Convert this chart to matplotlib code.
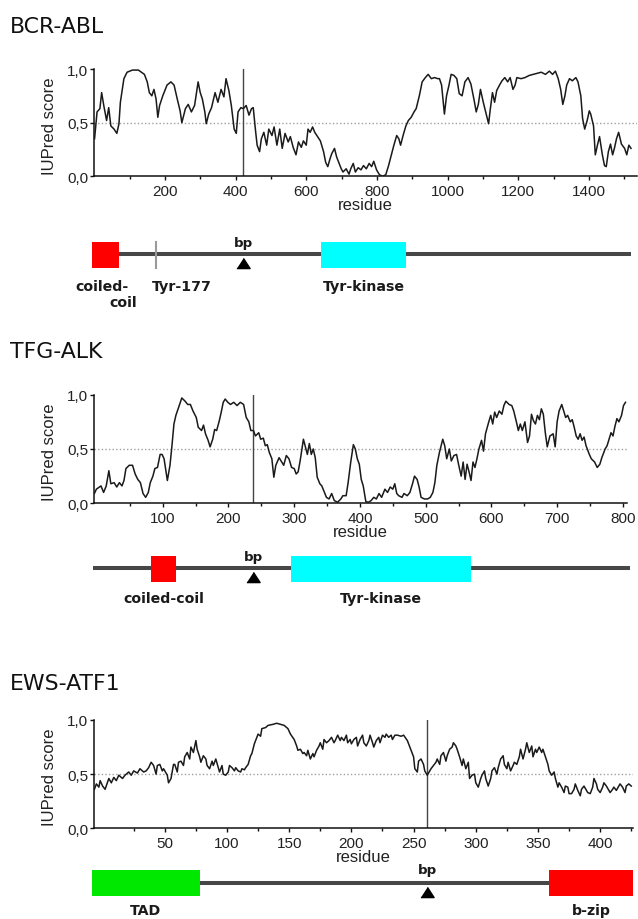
import matplotlib
matplotlib.use("Agg")
import matplotlib.pyplot as plt
from matplotlib.patches import Rectangle
from matplotlib.ticker import FixedLocator, FuncFormatter

# ---------------- DATA ----------------
titles = ["BCR-ABL", "TFG-ALK", "EWS-ATF1"]

bcr_x = [1, 8, 16, 21, 27, 35, 41, 47, 56, 64,
         70, 74, 84, 93, 108, 125, 142, 150, 156, 163,
         169, 175, 180, 185, 194, 206, 217, 226, 235, 243,
         248, 258, 266, 275, 284, 294, 300, 306, 313, 317,
         324, 332, 342, 350, 359, 367, 373, 381, 388, 396,
         402, 407, 415, 422, 430, 438, 445, 450, 456, 461,
         468, 473, 480, 488, 494, 503, 509, 517, 525, 532,
         540, 549, 555, 563, 571, 578, 586, 592, 600, 605,
         611, 618, 624, 632, 640, 649, 655, 661, 667, 672,
         680, 686, 693, 699, 704, 713, 721, 726, 733, 739,
         747, 755, 762, 770, 778, 785, 791, 799, 807, 816,
         825, 833, 841, 848, 856, 862, 867, 874, 882, 889,
         897, 905, 911, 920, 928, 937, 945, 954, 963, 972,
         977, 983, 991, 997, 1004, 1010, 1018, 1026, 1033, 1041,
         1049, 1058, 1066, 1075, 1081, 1087, 1093, 1101, 1110, 1116,
         1121, 1127, 1133, 1139, 1147, 1154, 1162, 1170, 1177, 1185,
         1191, 1196, 1208, 1219, 1231, 1242, 1254, 1265, 1277, 1288,
         1297, 1305, 1313, 1320, 1326, 1332, 1337, 1345, 1353, 1363,
         1369, 1377, 1382, 1388, 1395, 1401, 1405, 1413, 1418, 1424,
         1430, 1438, 1444, 1449, 1455, 1461, 1467, 1472, 1478, 1484,
         1492, 1501, 1507, 1513, 1519]
bcr_y = [0.35, 0.60, 0.63, 0.78, 0.66, 0.52, 0.64, 0.47, 0.44, 0.40,
         0.49, 0.69, 0.91, 0.97, 0.99, 0.99, 0.95, 0.88, 0.78, 0.75,
         0.81, 0.72, 0.55, 0.66, 0.75, 0.85, 0.88, 0.85, 0.72, 0.61,
         0.50, 0.63, 0.67, 0.60, 0.66, 0.88, 0.78, 0.72, 0.60, 0.49,
         0.58, 0.64, 0.78, 0.69, 0.81, 0.74, 0.91, 0.80, 0.66, 0.44,
         0.40, 0.60, 0.64, 0.63, 0.66, 0.57, 0.63, 0.64, 0.44, 0.29,
         0.23, 0.35, 0.41, 0.29, 0.44, 0.38, 0.46, 0.29, 0.44, 0.26,
         0.40, 0.32, 0.37, 0.27, 0.20, 0.32, 0.27, 0.33, 0.29, 0.44,
         0.41, 0.46, 0.41, 0.37, 0.33, 0.23, 0.13, 0.09, 0.16, 0.21,
         0.26, 0.18, 0.12, 0.07, 0.04, 0.07, 0.02, 0.07, 0.12, 0.04,
         0.08, 0.06, 0.10, 0.07, 0.12, 0.09, 0.14, 0.06, 0.015, 0.0,
         0.015, 0.10, 0.20, 0.29, 0.38, 0.35, 0.29, 0.38, 0.47, 0.52,
         0.55, 0.60, 0.63, 0.75, 0.88, 0.92, 0.95, 0.91, 0.92, 0.91,
         0.91, 0.85, 0.58, 0.75, 0.85, 0.95, 0.94, 0.91, 0.77, 0.75,
         0.88, 0.92, 0.86, 0.71, 0.60, 0.67, 0.81, 0.69, 0.57, 0.49,
         0.63, 0.78, 0.69, 0.80, 0.85, 0.89, 0.92, 0.88, 0.92, 0.81,
         0.85, 0.92, 0.91, 0.92, 0.94, 0.95, 0.96, 0.97, 0.95, 0.98,
         0.95, 0.98, 0.91, 0.81, 0.67, 0.75, 0.85, 0.91, 0.89, 0.92,
         0.88, 0.75, 0.54, 0.44, 0.52, 0.61, 0.58, 0.47, 0.20, 0.29,
         0.37, 0.20, 0.10, 0.09, 0.23, 0.30, 0.20, 0.26, 0.35, 0.41,
         0.30, 0.26, 0.20, 0.29, 0.26]

tfg_x = [-4, -1, 6, 10, 14, 18, 21, 26, 30, 34,
         38, 41, 44, 49, 54, 58, 62, 66, 70, 74,
         78, 81, 85, 88, 92, 96, 99, 102, 105, 107,
         111, 114, 117, 120, 125, 129, 134, 138, 142, 146,
         151, 154, 159, 162, 165, 169, 172, 176, 179, 182,
         186, 189, 192, 195, 199, 203, 208, 213, 218, 223,
         227, 231, 234, 238, 241, 246, 249, 253, 256, 259,
         262, 266, 269, 272, 277, 280, 284, 288, 292, 296,
         300, 303, 306, 309, 314, 317, 320, 323, 326, 329,
         332, 335, 339, 342, 346, 349, 353, 357, 361, 366,
         371, 374, 379, 382, 386, 390, 393, 396, 399, 402,
         405, 409, 413, 417, 421, 425, 429, 433, 438, 442,
         446, 450, 453, 456, 459, 464, 467, 472, 476, 480,
         483, 487, 490, 493, 498, 503, 507, 511, 514, 517,
         521, 526, 529, 532, 536, 539, 543, 547, 550, 554,
         557, 560, 563, 566, 569, 572, 575, 578, 581, 585,
         588, 591, 596, 599, 602, 605, 608, 612, 616, 619,
         622, 627, 631, 634, 638, 641, 644, 647, 651, 655,
         658, 661, 664, 667, 670, 673, 676, 679, 682, 685,
         689, 694, 697, 700, 703, 707, 710, 713, 716, 720,
         723, 726, 729, 732, 735, 738, 741, 744, 749, 752,
         757, 761, 765, 768, 773, 776, 779, 782, 785, 788,
         791, 794, 798, 801, 804]
tfg_y = [0.09, 0.13, 0.16, 0.10, 0.16, 0.30, 0.18, 0.19, 0.15, 0.19,
         0.16, 0.21, 0.32, 0.35, 0.35, 0.27, 0.22, 0.19, 0.09, 0.055,
         0.10, 0.19, 0.25, 0.32, 0.33, 0.45, 0.45, 0.41, 0.29, 0.21,
         0.35, 0.53, 0.73, 0.81, 0.90, 0.97, 0.94, 0.91, 0.91, 0.85,
         0.79, 0.70, 0.67, 0.72, 0.64, 0.58, 0.52, 0.59, 0.68, 0.67,
         0.76, 0.84, 0.93, 0.96, 0.93, 0.91, 0.93, 0.90, 0.93, 0.91,
         0.79, 0.75, 0.67, 0.67, 0.62, 0.65, 0.59, 0.60, 0.53, 0.54,
         0.47, 0.41, 0.24, 0.35, 0.42, 0.39, 0.35, 0.44, 0.41, 0.33,
         0.32, 0.27, 0.29, 0.39, 0.59, 0.52, 0.45, 0.55, 0.45, 0.50,
         0.42, 0.24, 0.18, 0.16, 0.10, 0.055, 0.04, 0.09, 0.025, 0.01,
         0.04, 0.07, 0.07, 0.19, 0.38, 0.54, 0.50, 0.41, 0.36, 0.22,
         0.16, 0.015, 0.01, 0.025, 0.055, 0.04, 0.09, 0.055, 0.13, 0.10,
         0.15, 0.13, 0.18, 0.09, 0.07, 0.055, 0.09, 0.07, 0.10, 0.18,
         0.25, 0.22, 0.15, 0.055, 0.04, 0.04, 0.055, 0.10, 0.19, 0.35,
         0.47, 0.59, 0.53, 0.41, 0.50, 0.39, 0.44, 0.45, 0.36, 0.25,
         0.38, 0.22, 0.36, 0.29, 0.21, 0.38, 0.33, 0.41, 0.50, 0.58,
         0.48, 0.64, 0.75, 0.81, 0.73, 0.84, 0.79, 0.85, 0.82, 0.90,
         0.94, 0.91, 0.90, 0.85, 0.75, 0.67, 0.73, 0.67, 0.75, 0.56,
         0.62, 0.82, 0.76, 0.73, 0.81, 0.77, 0.87, 0.82, 0.65, 0.52,
         0.62, 0.64, 0.52, 0.75, 0.85, 0.91, 0.85, 0.79, 0.81, 0.75,
         0.77, 0.70, 0.62, 0.59, 0.64, 0.58, 0.61, 0.53, 0.45, 0.41,
         0.38, 0.33, 0.36, 0.42, 0.50, 0.53, 0.59, 0.65, 0.62, 0.71,
         0.78, 0.75, 0.81, 0.90, 0.93]

ews_x = [-6.6, -5, -3, -2, 0, 2, 3.5, 5, 7, 9,
         11, 13, 16, 18, 21, 23, 25, 28, 30, 33,
         35, 37, 39, 41, 43, 44, 46, 48, 49, 52,
         53, 55, 57, 58, 60, 61, 63, 65, 66, 68,
         70, 71, 73, 75, 76, 78, 79, 81, 83, 84,
         86, 88, 89, 91, 93, 94, 96, 97, 99, 101,
         102, 104, 106, 107, 109, 111, 112, 114, 115, 117,
         119, 120, 122, 124, 125, 127, 128, 131, 133, 137,
         140, 143, 146, 149, 151, 154, 156, 157, 159, 161,
         162, 164, 165, 167, 169, 170, 172, 174, 175, 177,
         178, 180, 182, 184, 186, 187, 189, 191, 192, 194,
         196, 197, 199, 200, 202, 204, 205, 207, 209, 210,
         212, 214, 215, 217, 218, 220, 222, 223, 225, 227,
         228, 230, 232, 233, 235, 237, 240, 242, 245, 246,
         248, 250, 251, 253, 254, 256, 258, 259, 261, 263,
         264, 266, 268, 269, 271, 272, 274, 276, 277, 279,
         281, 282, 284, 285, 287, 289, 290, 292, 294, 295,
         297, 299, 300, 302, 304, 305, 307, 308, 310, 312,
         313, 315, 317, 318, 320, 322, 323, 325, 326, 328,
         330, 331, 333, 335, 336, 338, 340, 341, 343, 345,
         346, 348, 349, 351, 353, 354, 356, 358, 359, 361,
         363, 364, 366, 367, 369, 371, 372, 374, 375, 377,
         379, 380, 382, 384, 385, 387, 389, 390, 392, 394,
         395, 397, 398, 400, 402, 403, 405, 407, 408, 410,
         411, 413, 415, 416, 418, 420, 421, 423, 425]
ews_y = [0.36, 0.41, 0.38, 0.44, 0.39, 0.36, 0.41, 0.46, 0.42, 0.47,
         0.44, 0.49, 0.46, 0.49, 0.52, 0.49, 0.53, 0.51, 0.55, 0.52,
         0.53, 0.56, 0.61, 0.58, 0.50, 0.58, 0.59, 0.53, 0.55, 0.49,
         0.42, 0.46, 0.59, 0.59, 0.52, 0.61, 0.62, 0.58, 0.66, 0.70,
         0.64, 0.75, 0.70, 0.81, 0.73, 0.66, 0.61, 0.67, 0.64, 0.58,
         0.55, 0.62, 0.58, 0.64, 0.56, 0.52, 0.58, 0.50, 0.49, 0.52,
         0.58, 0.56, 0.53, 0.56, 0.53, 0.52, 0.55, 0.54, 0.56, 0.59,
         0.67, 0.69, 0.78, 0.84, 0.87, 0.85, 0.92, 0.93, 0.95, 0.96,
         0.97, 0.96, 0.95, 0.92, 0.87, 0.82, 0.76, 0.72, 0.73, 0.69,
         0.70, 0.67, 0.72, 0.64, 0.69, 0.66, 0.72, 0.76, 0.79, 0.73,
         0.82, 0.79, 0.81, 0.84, 0.79, 0.81, 0.86, 0.81, 0.84, 0.81,
         0.86, 0.79, 0.82, 0.78, 0.82, 0.84, 0.76, 0.82, 0.86, 0.79,
         0.76, 0.81, 0.86, 0.79, 0.75, 0.81, 0.84, 0.79, 0.86, 0.84,
         0.87, 0.84, 0.86, 0.82, 0.86, 0.86, 0.85, 0.86, 0.81, 0.78,
         0.72, 0.66, 0.55, 0.52, 0.62, 0.64, 0.59, 0.53, 0.49, 0.53,
         0.55, 0.58, 0.61, 0.64, 0.59, 0.67, 0.70, 0.62, 0.67, 0.73,
         0.75, 0.79, 0.76, 0.73, 0.66, 0.58, 0.64, 0.55, 0.61, 0.46,
         0.49, 0.50, 0.42, 0.38, 0.46, 0.49, 0.53, 0.46, 0.39, 0.46,
         0.53, 0.56, 0.50, 0.56, 0.64, 0.67, 0.59, 0.55, 0.61, 0.53,
         0.58, 0.61, 0.59, 0.66, 0.73, 0.64, 0.73, 0.79, 0.70, 0.76,
         0.66, 0.73, 0.70, 0.75, 0.70, 0.73, 0.66, 0.59, 0.53, 0.49,
         0.52, 0.46, 0.38, 0.42, 0.38, 0.33, 0.39, 0.38, 0.32, 0.32,
         0.36, 0.41, 0.35, 0.30, 0.36, 0.39, 0.35, 0.33, 0.32, 0.38,
         0.46, 0.41, 0.36, 0.33, 0.38, 0.42, 0.39, 0.35, 0.33, 0.36,
         0.38, 0.35, 0.39, 0.41, 0.38, 0.33, 0.39, 0.41, 0.39]

breakpoints = [422, 238, 261]
xlims = [(0.5, 1536), (-4, 806), (-6.6, 426.4)]
xticks_major = [[200, 400, 600, 800, 1000, 1200, 1400],
                [100, 200, 300, 400, 500, 600, 700, 800],
                [50, 100, 150, 200, 250, 300, 350, 400]]
xticks_minor = [[100, 300, 500, 700, 900, 1100, 1300, 1500],
                [50, 150, 250, 350, 450, 550, 650, 750],
                [25, 75, 125, 175, 225, 275, 325, 375, 425]]
yticks = [0.0, 0.5, 1.0]
ytick_labels = ["0,0", "0,5", "1,0"]
threshold = 0.5

# domain diagrams (residue ranges)
protein_span = [(0.5, 1519), (-6, 811), (-8.5, 426.4)]
domain_names = [["coiled-\ncoil", "Tyr-kinase"], ["coiled-coil", "Tyr-kinase"], ["TAD", "b-zip"]]
domain_starts = [[-5, 643], [82, 295], [-8.5, 359]]
domain_ends = [[71, 883], [120, 569], [78, 426.4]]
domain_colors = [["#ff0000", "#00ffff"], ["#ff0000", "#00ffff"], ["#00e800", "#ff0000"]]
site_name = "Tyr-177"
site_pos = 175

series = [(bcr_x, bcr_y), (tfg_x, tfg_y), (ews_x, ews_y)]

# ---------------- LAYOUT (pixels) ----------------
W, H = 638, 920
fig = plt.figure(figsize=(W / 100, H / 100), dpi=100)

def rect(left, right, top, bottom):
    return [left / W, 1 - bottom / H, (right - left) / W, (bottom - top) / H]

plot_boxes = [(94.4, 637, 70, 177.3), (94.4, 626.8, 395.7, 504.3), (94.4, 633, 721, 829.3)]
title_base = [33, 358, 690]
dom_bands = [(230, 312), (545, 615), (860, 920)]
dom_line_y = [254.7, 569.3, 883.5]
dom_box = [(242.7, 269.3), (556.7, 583.3), (870.7, 897.3)]
tri_y = [264, 578.3, 892.8]
bp_label_y = [244, 557, 871]
dom_label_y = [287, 599.3, 911.5]

tick_font = "Liberation Sans"
lab_font = "DejaVu Sans"
comma = FuncFormatter(lambda v, p: ytick_labels[yticks.index(round(v, 2))] if round(v, 2) in yticks else "")
tri_marker = [(-1.3, -1), (1.3, -1), (0, 1)]
lab_kw = dict(fontsize=10.2, fontweight="bold", fontfamily=lab_font, color="#1a1a1a",
              va="center", clip_on=False)

for i in range(3):
    l, r, t, b = plot_boxes[i]
    ax = fig.add_axes(rect(l, r, t, b))
    xs, ys = series[i]
    ax.axhline(threshold, color="#a0a0a0", lw=1.0, ls=(0, (1, 1.6)), zorder=1)
    ax.axvline(breakpoints[i], color="#444444", lw=1.0, zorder=2)
    ax.plot(xs, ys, color="#1a1a1a", lw=1.1, zorder=3)
    ax.set_xlim(*xlims[i])
    ax.set_ylim(0, 1.0)
    for s in ("top", "right"):
        ax.spines[s].set_visible(False)
    for s in ("left", "bottom"):
        ax.spines[s].set_linewidth(1.1)
        ax.spines[s].set_color("#111111")
    ax.xaxis.set_major_locator(FixedLocator(xticks_major[i]))
    ax.xaxis.set_minor_locator(FixedLocator(xticks_minor[i]))
    ax.yaxis.set_major_locator(FixedLocator(yticks))
    ax.yaxis.set_major_formatter(comma)
    ax.tick_params(axis="both", which="major", length=3, width=1, direction="out",
                   labelsize=11, colors="#111111", pad=1.5)
    ax.tick_params(axis="x", which="minor", length=2, width=1, direction="out", colors="#111111")
    ax.tick_params(axis="x", which="major", pad=2.5)
    for lab in ax.get_xticklabels() + ax.get_yticklabels():
        lab.set_fontfamily(tick_font)
        lab.set_color("#222222")
    ax.set_xlabel("residue", fontsize=12, fontfamily=tick_font, color="#222222", labelpad=-1)
    ax.set_ylabel("IUPred score", fontsize=12, fontfamily=tick_font, color="#222222", va="center")
    ax.yaxis.set_label_coords((50 - l) / (r - l), 0.48)

    fig.text(10 / W, 1 - title_base[i] / H, titles[i], fontsize=15.8, fontfamily=lab_font,
             color="#111111", va="baseline", ha="left")

    # domain diagram
    top, bot = dom_bands[i]
    dax = fig.add_axes(rect(l, r, top, bot))
    dax.set_xlim(*xlims[i])
    dax.set_ylim(bot, top)
    dax.axis("off")
    ps, pe = protein_span[i]
    dax.plot([ps, pe], [dom_line_y[i]] * 2, color="#474747", lw=2.9, solid_capstyle="butt",
             zorder=1, clip_on=False)
    y0, y1 = dom_box[i]
    px_per_res = (r - l) / (xlims[i][1] - xlims[i][0])
    for name, s0, e0, c in zip(domain_names[i], domain_starts[i], domain_ends[i], domain_colors[i]):
        dax.add_patch(Rectangle((s0, y0), e0 - s0, y1 - y0, facecolor=c, edgecolor="none",
                                zorder=2, clip_on=False))
        cx = (s0 + e0) / 2
        if "\n" in name:
            first, second = name.split("\n")
            dax.text(cx - 4 / px_per_res, dom_label_y[i], first, ha="center", **lab_kw)
            dax.text(cx + 17 / px_per_res, dom_label_y[i] + 16, second, ha="center", **lab_kw)
        else:
            dax.text(cx, dom_label_y[i], name, ha="center", **lab_kw)
    if i == 0:
        dax.plot([site_pos, site_pos], [y0 + 0.5, y1 - 0.5], color="#9a9a9a", lw=1.5, zorder=2)
        dax.text(site_pos - 4 / px_per_res, dom_label_y[i], site_name, ha="left", **lab_kw)
    dax.plot([breakpoints[i]], [tri_y[i]], marker=tri_marker, markersize=9.5, color="#000000",
             linestyle="none", zorder=3, clip_on=False)
    dax.text(breakpoints[i], bp_label_y[i], "bp", fontsize=9.6, fontweight="bold",
             fontfamily=lab_font, color="#1a1a1a", ha="center", va="center", clip_on=False)

fig.savefig("out.png", dpi=100)
